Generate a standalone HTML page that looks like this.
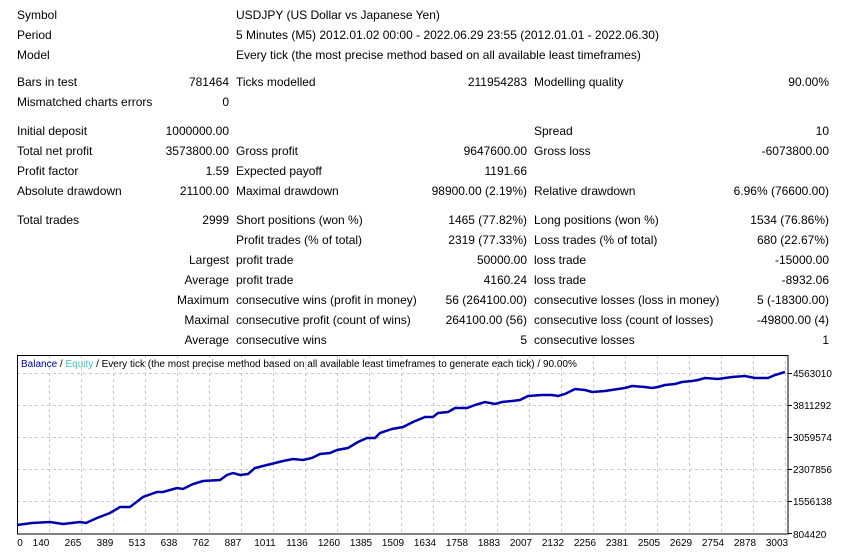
<!DOCTYPE html>
<html><head><meta charset="utf-8"><style>
body{margin:0;width:851px;height:553px;background:#fff;position:relative;overflow:hidden;font-family:"Liberation Sans",Arial,sans-serif;font-size:12px;color:#000}
.t{position:absolute;white-space:nowrap;line-height:14px}
.r{text-align:right}
</style></head><body>
<div class="t" style="left:17px;top:8px">Symbol</div><div class="t" style="left:236px;top:8px">USDJPY (US Dollar vs Japanese Yen)</div>
<div class="t" style="left:17px;top:28px">Period</div><div class="t" style="left:236px;top:28px">5 Minutes (M5) 2012.01.02 00:00 - 2022.06.29 23:55 (2012.01.01 - 2022.06.30)</div>
<div class="t" style="left:17px;top:48px">Model</div><div class="t" style="left:236px;top:48px">Every tick (the most precise method based on all available least timeframes)</div>

<div class="t" style="left:17px;top:75px">Bars in test</div><div class="t r" style="right:622px;top:75px">781464</div>
<div class="t" style="left:236px;top:75px">Ticks modelled</div><div class="t r" style="right:324px;top:75px">211954283</div>
<div class="t" style="left:534px;top:75px">Modelling quality</div><div class="t r" style="right:22px;top:75px">90.00%</div>
<div class="t" style="left:17px;top:95px">Mismatched charts errors</div><div class="t r" style="right:622px;top:95px">0</div>

<div class="t" style="left:17px;top:124px">Initial deposit</div><div class="t r" style="right:622px;top:124px">1000000.00</div>
<div class="t" style="left:534px;top:124px">Spread</div><div class="t r" style="right:22px;top:124px">10</div>
<div class="t" style="left:17px;top:144px">Total net profit</div><div class="t r" style="right:622px;top:144px">3573800.00</div>
<div class="t" style="left:236px;top:144px">Gross profit</div><div class="t r" style="right:324px;top:144px">9647600.00</div>
<div class="t" style="left:534px;top:144px">Gross loss</div><div class="t r" style="right:22px;top:144px">-6073800.00</div>
<div class="t" style="left:17px;top:164px">Profit factor</div><div class="t r" style="right:622px;top:164px">1.59</div>
<div class="t" style="left:236px;top:164px">Expected payoff</div><div class="t r" style="right:324px;top:164px">1191.66</div>
<div class="t" style="left:17px;top:184px">Absolute drawdown</div><div class="t r" style="right:622px;top:184px">21100.00</div>
<div class="t" style="left:236px;top:184px">Maximal drawdown</div><div class="t r" style="right:324px;top:184px">98900.00 (2.19%)</div>
<div class="t" style="left:534px;top:184px">Relative drawdown</div><div class="t r" style="right:22px;top:184px">6.96% (76600.00)</div>

<div class="t" style="left:17px;top:213px">Total trades</div><div class="t r" style="right:622px;top:213px">2999</div>
<div class="t" style="left:236px;top:213px">Short positions (won %)</div><div class="t r" style="right:324px;top:213px">1465 (77.82%)</div>
<div class="t" style="left:534px;top:213px">Long positions (won %)</div><div class="t r" style="right:22px;top:213px">1534 (76.86%)</div>
<div class="t" style="left:236px;top:233px">Profit trades (% of total)</div><div class="t r" style="right:324px;top:233px">2319 (77.33%)</div>
<div class="t" style="left:534px;top:233px">Loss trades (% of total)</div><div class="t r" style="right:22px;top:233px">680 (22.67%)</div>
<div class="t r" style="right:622px;top:253px">Largest</div><div class="t" style="left:236px;top:253px">profit trade</div><div class="t r" style="right:324px;top:253px">50000.00</div>
<div class="t" style="left:534px;top:253px">loss trade</div><div class="t r" style="right:22px;top:253px">-15000.00</div>
<div class="t r" style="right:622px;top:273px">Average</div><div class="t" style="left:236px;top:273px">profit trade</div><div class="t r" style="right:324px;top:273px">4160.24</div>
<div class="t" style="left:534px;top:273px">loss trade</div><div class="t r" style="right:22px;top:273px">-8932.06</div>
<div class="t r" style="right:622px;top:293px">Maximum</div><div class="t" style="left:236px;top:293px">consecutive wins (profit in money)</div><div class="t r" style="right:324px;top:293px">56 (264100.00)</div>
<div class="t" style="left:534px;top:293px">consecutive losses (loss in money)</div><div class="t r" style="right:22px;top:293px">5 (-18300.00)</div>
<div class="t r" style="right:622px;top:313px">Maximal</div><div class="t" style="left:236px;top:313px">consecutive profit (count of wins)</div><div class="t r" style="right:324px;top:313px">264100.00 (56)</div>
<div class="t" style="left:534px;top:313px">consecutive loss (count of losses)</div><div class="t r" style="right:22px;top:313px">-49800.00 (4)</div>
<div class="t r" style="right:622px;top:333px">Average</div><div class="t" style="left:236px;top:333px">consecutive wins</div><div class="t r" style="right:324px;top:333px">5</div>
<div class="t" style="left:534px;top:333px">consecutive losses</div><div class="t r" style="right:22px;top:333px">1</div>

<svg width="851" height="553" style="position:absolute;left:0;top:0" font-family="Liberation Sans, Arial, sans-serif" font-size="10">
<g stroke="#c8c8c8" stroke-dasharray="3,3" stroke-width="1">
<line x1="17" y1="373.5" x2="788" y2="373.5"/><line x1="17" y1="405.5" x2="788" y2="405.5"/><line x1="17" y1="437.5" x2="788" y2="437.5"/><line x1="17" y1="469.5" x2="788" y2="469.5"/><line x1="17" y1="501.5" x2="788" y2="501.5"/>
<path d="M49.5 355V534M81.5 355V534M113.5 355V534M145.5 355V534M177.5 355V534M209.5 355V534M241.5 355V534M273.5 355V534M305.5 355V534M337.5 355V534M369.5 355V534M401.5 355V534M433.5 355V534M465.5 355V534M497.5 355V534M529.5 355V534M561.5 355V534M593.5 355V534M625.5 355V534M657.5 355V534M689.5 355V534M721.5 355V534M753.5 355V534M785.5 355V534"/>
</g>
<rect x="17.5" y="355.5" width="770.5" height="178.5" fill="none" stroke="#000"/>
<g stroke="#000"><line x1="788" y1="373.5" x2="792" y2="373.5"/><line x1="788" y1="405.5" x2="792" y2="405.5"/><line x1="788" y1="437.5" x2="792" y2="437.5"/><line x1="788" y1="469.5" x2="792" y2="469.5"/><line x1="788" y1="501.5" x2="792" y2="501.5"/><line x1="788" y1="533.5" x2="792" y2="533.5"/></g>
<text x="21" y="367" fill="#0000aa">Balance <tspan fill="#000">/</tspan> <tspan fill="#40c0c0">Equity</tspan> <tspan fill="#000">/ Every tick (the most precise method based on all available least timeframes to generate each tick)     / 90.00%</tspan></text>
<polyline fill="none" stroke="#0000aa" stroke-width="2.5" points="17,525 32,523 50,522 63,524 80,522 86,523 97,518 110,513 120,507 130,507 143,497 157,492 163,492 177,488 183,489 193,484 203,481 220,480 227,475 233,473 240,475 248,474 255,468 267,465 283,461 293,459 303,460 312,458 320,454 330,453 337,450 348,448 358,442 367,438 375,438 380,433 392,429 403,427 413,422 425,417 433,417 438,413 448,412 455,408 467,408 475,405 485,402 495,404 502,402 512,401 520,400 528,396 542,395 552,395 558,396 565,394 575,389 585,390 592,392 605,391 618,389 625,388 632,386 645,387 652,388 658,387 665,385 675,384 682,382 692,381 698,380 705,378 718,379 725,378 732,377 745,376 755,378 765,378 768,378 775,375 785,372"/>
<g fill="#000">
<text x="793" y="377">4563010</text><text x="793" y="409">3811292</text><text x="793" y="441">3059574</text><text x="793" y="473">2307856</text><text x="793" y="505">1556138</text><text x="793" y="538">804420</text>
</g>
<g fill="#000" text-anchor="middle">
<text x="20" y="546">0</text><text x="41" y="546">140</text><text x="73" y="546">265</text><text x="105" y="546">389</text><text x="137" y="546">513</text><text x="169" y="546">638</text><text x="201" y="546">762</text><text x="233" y="546">887</text><text x="265" y="546">1011</text><text x="297" y="546">1136</text><text x="329" y="546">1260</text><text x="361" y="546">1385</text><text x="393" y="546">1509</text><text x="425" y="546">1634</text><text x="457" y="546">1758</text><text x="489" y="546">1883</text><text x="521" y="546">2007</text><text x="553" y="546">2132</text><text x="585" y="546">2256</text><text x="617" y="546">2381</text><text x="649" y="546">2505</text><text x="681" y="546">2629</text><text x="713" y="546">2754</text><text x="745" y="546">2878</text><text x="777" y="546">3003</text>
</g>
</svg>
</body></html>
